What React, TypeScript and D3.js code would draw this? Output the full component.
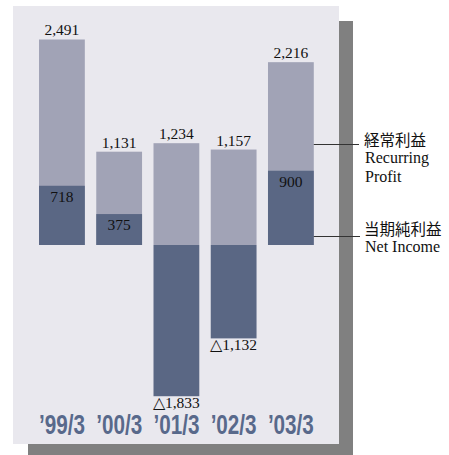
import React from 'react';
import * as d3 from 'd3';

const years = ['’99/3', '’00/3', '’01/3', '’02/3', '’03/3'];
const recurringProfit = [2491, 1131, 1234, 1157, 2216];
const netIncome = [718, 375, -1833, -1132, 900];

const W = 449;
const H = 455;

const PANEL = '#e9e8ee';
const SHADOW = '#808080';
const LIGHT = '#a1a3b6';
const DARK = '#5a6784';
const YEAR_COLOR = '#58698b';

const serif = '"Liberation Serif", "Times New Roman", serif';
const cjk = '"Noto Sans CJK JP", "Noto Sans CJK SC", sans-serif';

const App = () => {
  const x = d3.scaleBand()
    .domain(years)
    .range([33.3, 319.5])
    .paddingInner(0.2)
    .paddingOuter(0.1);

  const y = d3.scaleLinear()
    .domain([-2000, 2500])
    .range([410, 38.75]);

  const fmt = d3.format(',');
  const bw = x.bandwidth();
  const lastRight = (x(years[years.length - 1]) || 0) + bw;

  return (
    <svg width={W} height={H} style={{ position: 'absolute', left: 0, top: 0 }}>
      {/* shadow + panel */}
      <rect x={28} y={21} width={325} height={460} fill={SHADOW} />
      <rect x={13} y={6} width={326} height={438} fill={PANEL} />

      {/* recurring profit bars */}
      {years.map((yr, i) => (
        <rect key={'rp' + yr} x={x(yr)} y={y(recurringProfit[i])} width={bw}
          height={y(0) - y(recurringProfit[i])} fill={LIGHT} />
      ))}

      {/* net income bars */}
      {years.map((yr, i) => {
        const v = netIncome[i];
        return (
          <rect key={'ni' + yr} x={x(yr)} y={y(Math.max(v, 0))} width={bw}
            height={Math.abs(y(v) - y(0))} fill={DARK} />
        );
      })}

      {/* value labels */}
      {years.map((yr, i) => {
        const cx = (x(yr) || 0) + bw / 2;
        const v = netIncome[i];
        return (
          <g key={'lb' + yr} fontFamily={serif} fontSize={15.5} fill="#111" textAnchor="middle">
            <text x={cx} y={y(recurringProfit[i]) - 4}>{fmt(recurringProfit[i])}</text>
            {v >= 0
              ? <text x={cx} y={y(v) + 16}>{fmt(v)}</text>
              : <text x={cx} y={y(v) + 12}>{'△' + fmt(-v)}</text>}
          </g>
        );
      })}

      {/* year labels */}
      {years.map(yr => (
        <text key={'yr' + yr} x={(x(yr) || 0) + bw / 2} y={434} textAnchor="middle"
          fontFamily='"Liberation Sans", Arial, sans-serif' fontWeight="bold" fontSize={27}
          fill={YEAR_COLOR} textLength={46} lengthAdjust="spacingAndGlyphs">{yr}</text>
      ))}

      {/* legend */}
      <line x1={lastRight} x2={359} y1={144.5} y2={144.5} stroke="#333" strokeWidth={1} />
      <line x1={lastRight} x2={360} y1={236.5} y2={236.5} stroke="#333" strokeWidth={1} />
      <g fill="#111">
        <text x={364} y={146} fontFamily={cjk} fontSize={15.5}>経常利益</text>
        <text x={365} y={163} fontFamily={serif} fontSize={16}>Recurring</text>
        <text x={365} y={182} fontFamily={serif} fontSize={16}>Profit</text>
        <text x={364} y={234.5} fontFamily={cjk} fontSize={15.5}>当期純利益</text>
        <text x={365} y={252} fontFamily={serif} fontSize={16}>Net Income</text>
      </g>
    </svg>
  );
};

export default App;
